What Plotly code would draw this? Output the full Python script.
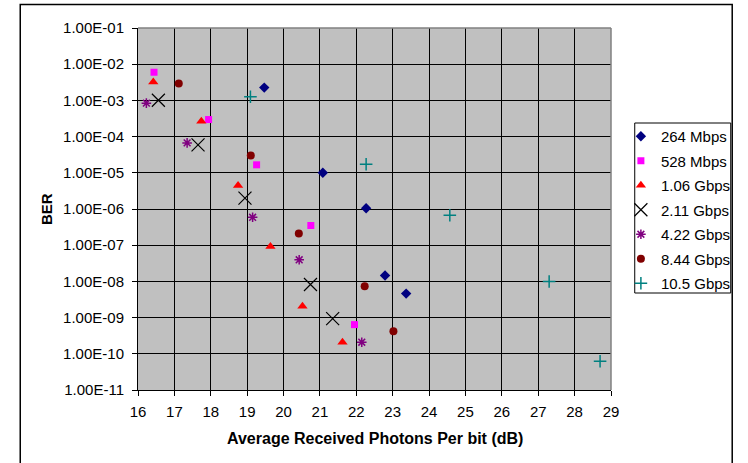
import plotly.graph_objects as go

# ---- data ----
series_names = ["264 Mbps", "528 Mbps", "1.06 Gbps", "2.11 Gbps", "4.22 Gbps", "8.44 Gbps", "10.5 Gbps"]

x_264m = [19.47, 21.08, 22.27, 22.79, 23.37]
ber_264m = [2.26e-3, 1.0e-5, 1.05e-6, 1.45e-8, 4.6e-9]

x_528m = [16.44, 17.94, 19.26, 20.75, 21.95]
ber_528m = [6.0e-3, 2.96e-4, 1.66e-5, 3.5e-7, 6.4e-10]

x_1g06 = [16.42, 17.74, 18.75, 19.64, 20.52, 21.62]
ber_1g06 = [3.2e-3, 2.67e-4, 4.46e-6, 9.2e-8, 2.07e-9, 2.09e-10]

x_2g11 = [16.56, 17.65, 18.94, 20.74, 21.35]
ber_2g11 = [1.01e-3, 5.9e-5, 2.0e-6, 8.2e-9, 9.4e-10]

x_4g22 = [16.23, 17.35, 19.15, 20.43, 22.15]
ber_4g22 = [8.4e-4, 6.7e-5, 5.9e-7, 3.95e-8, 2.09e-10]

x_8g44 = [17.12, 19.10, 20.42, 22.23, 23.02]
ber_8g44 = [2.93e-3, 3.0e-5, 2.1e-7, 7.4e-9, 4.2e-10]

x_10g5 = [19.09, 22.27, 24.57, 27.30, 28.70]
ber_10g5 = [1.26e-3, 1.73e-5, 6.7e-7, 9.9e-9, 6.2e-11]

y_tick_vals = [1e-1, 1e-2, 1e-3, 1e-4, 1e-5, 1e-6, 1e-7, 1e-8, 1e-9, 1e-10, 1e-11]
y_tick_text = ["1.00E-01", "1.00E-02", "1.00E-03", "1.00E-04", "1.00E-05", "1.00E-06",
               "1.00E-07", "1.00E-08", "1.00E-09", "1.00E-10", "1.00E-11"]
x_tick_vals = list(range(16, 30))

xs = [x_264m, x_528m, x_1g06, x_2g11, x_4g22, x_8g44, x_10g5]
ys = [ber_264m, ber_528m, ber_1g06, ber_2g11, ber_4g22, ber_8g44, ber_10g5]

styles = [
    dict(symbol="diamond", size=8, color="#000080"),
    dict(symbol="square", size=7, color="#FF00FF"),
    dict(symbol="triangle-up", size=9, color="#FF0000"),
    dict(symbol="x-thin-open", size=13, color="#000000", line=dict(width=1.2, color="#000000")),
    dict(symbol="asterisk-open", size=8, color="#800080", line=dict(width=1.5, color="#800080")),
    dict(symbol="circle", size=8, color="#800000"),
    dict(symbol="cross-thin-open", size=9, color="#008080", line=dict(width=1.5, color="#008080")),
]

FONT = "Liberation Sans, Arial, sans-serif"

fig = go.Figure()
for i, (name, xv, yv, st) in enumerate(zip(series_names, xs, ys, styles)):
    fig.add_trace(go.Scatter(x=xv, y=yv, mode="markers", name=name,
                             legendgroup="g%d" % i, marker=st, cliponaxis=False))

W, H = 748, 463
L, R, T, B = 138, 132, 28, 73
pw, ph = W - L - R, H - T - B

def px(x):
    return (x - L) / pw

def py(y):
    return (H - B - y) / ph

fig.update_layout(
    width=W, height=H,
    margin=dict(l=L, r=R, t=T, b=B),
    paper_bgcolor="white",
    plot_bgcolor="#C0C0C0",
    font=dict(family=FONT, size=15, color="black"),
    showlegend=True,
    legend=dict(
        x=px(626), y=py(120), xanchor="left", yanchor="top",
        bgcolor="rgba(0,0,0,0)", borderwidth=0,
        font=dict(family=FONT, size=15, color="black"),
        tracegroupgap=2, itemsizing="trace",
    ),
    xaxis=dict(
        range=[16, 29], tickvals=x_tick_vals, ticks="outside", ticklen=5,
        tickcolor="black", showline=True, linecolor="black", linewidth=1,
        showgrid=True, gridcolor="black", gridwidth=1, zeroline=False,
        tickfont=dict(family=FONT, size=15), ticklabelstandoff=3,
    ),
    yaxis=dict(
        type="log", range=[-11, -1], tickvals=y_tick_vals, ticktext=y_tick_text,
        ticks="outside", ticklen=5, tickcolor="black", showline=True,
        linecolor="black", linewidth=1, showgrid=True, gridcolor="black",
        gridwidth=1, zeroline=False, tickfont=dict(family=FONT, size=15),
        ticklabelstandoff=5,
    ),
    shapes=[
        # plot area top/right borders (gray)
        dict(type="line", xref="paper", yref="paper", x0=0, x1=1, y0=1, y1=1,
             line=dict(color="#808080", width=1.5), layer="above"),
        dict(type="line", xref="paper", yref="paper", x0=1, x1=1, y0=0, y1=1,
             line=dict(color="#808080", width=1.5), layer="above"),
        # legend box
        dict(type="rect", xref="paper", yref="paper", x0=px(640), x1=px(737),
             y0=py(293), y1=py(123), line=dict(color="black", width=1),
             fillcolor="white", layer="below"),
        # outer chart frame
        dict(type="rect", xref="paper", yref="paper", x0=px(19), x1=px(738.5),
             y0=py(475), y1=py(4.5), line=dict(color="black", width=1.5),
             fillcolor="rgba(0,0,0,0)", layer="above"),
    ],
    annotations=[
        dict(text="<b>BER</b>", xref="paper", yref="paper", x=px(45), y=py(209),
             xanchor="center", yanchor="middle", textangle=-90, showarrow=False,
             font=dict(family=FONT, size=15)),
        dict(text="<b>Average Received Photons Per bit (dB)</b>", xref="paper", yref="paper",
             x=px(377), y=py(438), xanchor="center", yanchor="middle", showarrow=False,
             font=dict(family=FONT, size=16)),
    ],
)

fig.write_html("out.html",
               config={"displayModeBar": False},
               post_script="document.body.style.margin='0';document.body.style.overflow='hidden';")
